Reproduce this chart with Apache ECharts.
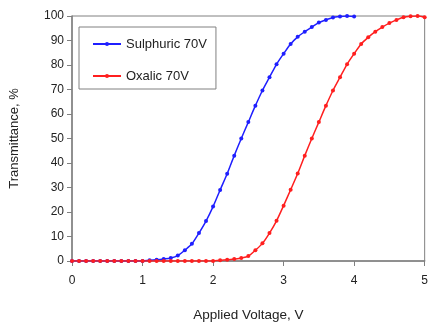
<!DOCTYPE html>
<html>
<head>
<meta charset="utf-8">
<script src="https://cdn.jsdelivr.net/npm/echarts@6/dist/echarts.min.js"></script>
<style>
  html, body { margin: 0; padding: 0; background: #fff; }
  #chart { width: 431px; height: 327px; }
</style>
</head>
<body>
<div id="chart"></div>
<script>
// voltage steps of 0.1 V
const sulphuricX = [];
for (let i = 0; i <= 40; i++) sulphuricX.push(+(i / 10).toFixed(1));
const oxalicX = [];
for (let i = 0; i <= 50; i++) oxalicX.push(+(i / 10).toFixed(1));

const sulphuricY = [0, 0, 0, 0, 0, 0, 0, 0, 0, 0, 0,
  0.3, 0.5, 0.8, 1.2, 2.2, 4.4, 7, 11.4, 16.3, 22.2,
  29, 35.6, 43, 50, 56.7, 63.4, 69.6, 75, 80.3, 84.6,
  88.6, 91.5, 93.6, 95.5, 97.3, 98.4, 99.4, 99.8, 100, 99.8];

const oxalicY = [0, 0, 0, 0, 0, 0, 0, 0, 0, 0, 0,
  0, 0, 0, 0, 0, 0, 0, 0, 0, 0,
  0.3, 0.5, 0.8, 1.2, 2, 4.4, 7.2, 11.4, 16.4, 22.6,
  29.1, 35.7, 43, 50, 56.7, 63.4, 69.6, 75, 80.3, 84.6,
  88.6, 91.3, 93.6, 95.5, 97.1, 98.4, 99.5, 99.9, 100, 99.5];

const yTicks = [0, 10, 20, 30, 40, 50, 60, 70, 80, 90, 100];
const xTicks = [0, 1, 2, 3, 4, 5];

const font = 'Liberation Sans, Arial, sans-serif';
const axisGrey = '#808080';

const chart = echarts.init(document.getElementById('chart'));
chart.setOption({
  animation: false,
  textStyle: { fontFamily: font },
  grid: {
    left: 71, right: 3, top: 16, bottom: 57,
    show: true, borderColor: axisGrey, borderWidth: 1
  },
  legend: {
    orient: 'vertical',
    left: 79, top: 27,
    padding: [10, 9, 6, 13],
    itemGap: 18,
    itemWidth: 28,
    itemHeight: 5,
    backgroundColor: '#fff',
    borderColor: '#808080',
    borderWidth: 1,
    textStyle: { fontFamily: font, fontSize: 13, color: '#222', lineHeight: 14 },
    data: ['Sulphuric 70V', 'Oxalic 70V']
  },
  xAxis: {
    type: 'value',
    min: xTicks[0], max: xTicks[xTicks.length - 1], interval: 1,
    name: 'Applied Voltage, V',
    nameLocation: 'middle',
    nameGap: 47,
    nameTextStyle: { fontFamily: font, fontSize: 13.5, color: '#222' },
    axisLine: { lineStyle: { color: axisGrey, width: 1.5 } },
    axisTick: { show: true, length: 5, lineStyle: { color: axisGrey } },
    axisLabel: { fontFamily: font, fontSize: 12, color: '#222', margin: 14 },
    splitLine: { show: false }
  },
  yAxis: {
    type: 'value',
    min: yTicks[0], max: yTicks[yTicks.length - 1], interval: 10,
    name: 'Transmittance, %',
    nameLocation: 'middle',
    nameGap: 51,
    nameTextStyle: { fontFamily: font, fontSize: 13, color: '#222' },
    axisLine: { show: true, lineStyle: { color: axisGrey, width: 1.5 } },
    axisTick: { show: true, length: 5, lineStyle: { color: axisGrey } },
    axisLabel: { fontFamily: font, fontSize: 12, color: '#222', margin: 8 },
    splitLine: { show: false }
  },
  series: [
    {
      name: 'Sulphuric 70V',
      type: 'line',
      data: sulphuricX.map((x, i) => [x, sulphuricY[i]]),
      smooth: 0.3,
      symbol: 'circle',
      symbolSize: 4,
      lineStyle: { color: '#1f1fff', width: 1.5 },
      itemStyle: { color: '#1f1fff' },
      z: 3
    },
    {
      name: 'Oxalic 70V',
      type: 'line',
      data: oxalicX.map((x, i) => [x, oxalicY[i]]),
      smooth: 0.3,
      symbol: 'circle',
      symbolSize: 4,
      lineStyle: { color: '#ff1f1f', width: 1.5 },
      itemStyle: { color: '#ff1f1f' },
      z: 4
    }
  ]
});
</script>
</body>
</html>
